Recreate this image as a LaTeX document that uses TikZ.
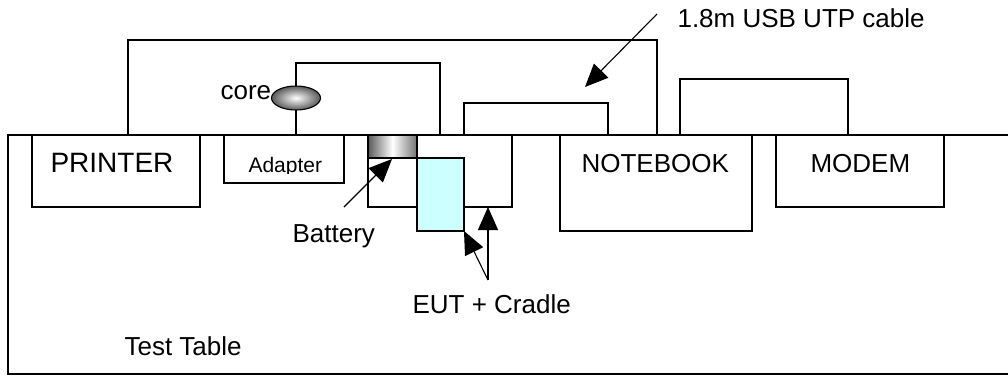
\documentclass[tikz,border=0pt]{standalone}
\usepackage{fontspec}
\setmainfont{Liberation Sans}
\usetikzlibrary{arrows.meta,shapes.geometric}
\begin{document}
\begin{tikzpicture}[x=1pt,y=-1pt,line width=1.1pt,
  box/.style={draw, anchor=north west, inner sep=0pt, outer sep=0pt},
  lbl/.style={font=\fontsize{26}{30}\selectfont, inner sep=0pt, anchor=base west},
  small/.style={font=\fontsize{21}{25}\selectfont, inner sep=0pt, anchor=base west},
  cable/.style={draw, line width=1.1pt},
  pointer/.style={-{Triangle[length=23pt,width=20pt]}, line width=1.1pt}]
\useasboundingbox (0,0) rectangle (1008,376);
% table
\node[box, minimum width=1012pt, minimum height=239pt] (table) at (8,135) {};
% devices
\node[box, minimum width=168pt, minimum height=72pt] (printer) at (32,135) {};
\node[box, minimum width=120pt, minimum height=48pt] (adapter) at (224,135) {};
\node[box, minimum width=144pt, minimum height=72pt] (cradle) at (368,135) {};
\node[box, minimum width=49pt, minimum height=23pt, left color=black!65, right color=black!55, middle color=white] (battery) at (368,135) {};
\node[box, minimum width=47pt, minimum height=73pt, fill={rgb,255:red,204;green,255;blue,255}] (eut) at (417,158) {};
\node[box, minimum width=192pt, minimum height=96pt] (notebook) at (560,135) {};
\node[box, minimum width=168pt, minimum height=72pt] (modem) at (776,135) {};
% cable ports
\coordinate (pA) at (128,135);
\coordinate (pB) at (657,135);
\coordinate (aA) at (296,135);
\coordinate (aB) at (440,135);
\coordinate (uA) at (464,135);
\coordinate (uB) at (608,135);
\coordinate (mA) at (680,135);
\coordinate (mB) at (848,135);
% cables
\draw[cable] (pA) -- ++(0,-95) -| (pB);
\draw[cable] (aA) -- ++(0,-72) -| (aB);
\draw[cable] (uA) -- ++(0,-32) -| (uB);
\draw[cable] (mA) -- ++(0,-56) -| (mB);
% core
\node[ellipse, draw, minimum width=49pt, minimum height=24pt, inner sep=0pt, inner color=white, outer color=black!65] (core) at (296,98) {};
% labels
\node[lbl, font=\fontsize{28}{32}\selectfont] (tprinter) at (50,172) {PRINTER};
\begin{scope}
\clip (224,135) rectangle (344,173);
\node[small] (tadapter) at (248,172.5) {Adapter};
\end{scope}
\node[lbl] (tnotebook) at (581,172) {NOTEBOOK};
\node[lbl] (tmodem) at (810,172) {MODEM};
\node[lbl] (tcore) at (220,99) {core};
\node[lbl] (tbattery) at (292,242) {Battery};
\node[lbl] (teut) at (412,313) {EUT + Cradle};
\node[lbl] (ttable) at (124,355) {Test Table};
\node[lbl] (tusb) at (677,27) {1.8m USB UTP cable};
% pointers
\coordinate (usbstart) at (657,14);
\coordinate (usbtip) at (585,87);
\draw[pointer] (usbstart) -- (usbtip);
\coordinate (batstart) at (344,207);
\draw[pointer] (batstart) -- (392,159);
\coordinate (eutbase) at (488,280);
\draw[pointer] (eutbase) -- (eut.south east);
\draw[pointer] (eutbase) -- (cradle.south -| eutbase);
\end{tikzpicture}
\end{document}
